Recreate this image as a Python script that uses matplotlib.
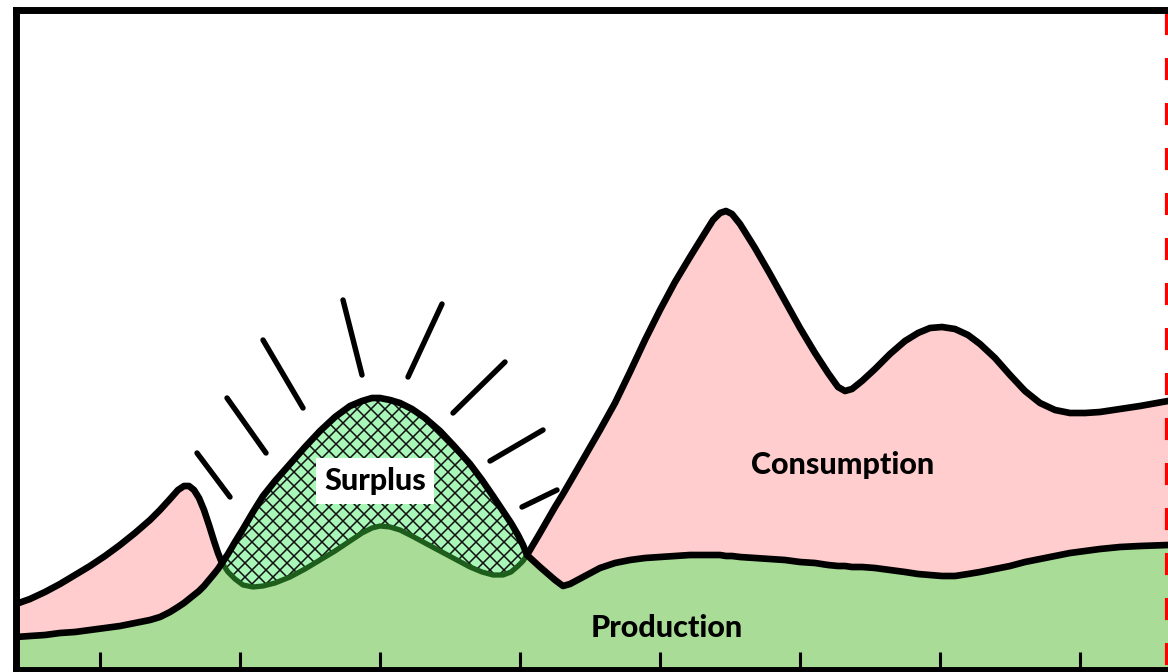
import numpy as np
import matplotlib
matplotlib.use('Agg')
import matplotlib.pyplot as plt
from matplotlib.collections import LineCollection

plt.rcParams['font.family'] = ['Lato', 'DejaVu Sans']

# time axis (arbitrary units)
x = np.array([0, 14, 29, 44, 59, 74, 89, 104, 119, 134,
              144, 154, 162, 168, 173, 178, 183, 188, 193, 198,
              202, 206, 212, 219, 227, 237, 247, 259, 274, 289,
              304, 319, 334, 346, 356, 364, 374, 384, 396, 409,
              424, 439, 454, 466, 477, 487, 495, 502, 507, 511,
              524, 539, 547, 554, 569, 584, 599, 614, 629, 644,
              659, 674, 687, 697, 704, 710, 716, 724, 739, 754,
              769, 784, 799, 812, 822, 829, 836, 846, 859, 874,
              889, 902, 914, 926, 939, 952, 964, 979, 994, 1009,
              1024, 1039, 1054, 1069, 1084, 1104, 1124, 1152])

consumption = np.array([66, 71, 78, 86, 95, 104, 114, 125, 137, 150,
                        160, 171, 180, 184, 184, 180, 172, 160, 145, 129,
                        117, 107, 98, 91, 85, 83, 84, 87, 93, 101,
                        110, 119, 129, 137, 142, 144, 143, 140, 134, 127,
                        119, 111, 103, 98, 95, 95, 98, 104, 109, 115,
                        137, 163, 176, 188, 214, 240, 267, 298, 330, 360,
                        388, 413, 434, 450, 457, 459, 456, 446, 422, 396,
                        369, 342, 317, 297, 283, 279, 281, 289, 301, 316,
                        329, 337, 342, 343, 341, 335, 326, 312, 295, 279,
                        267, 260, 257, 257, 258, 261, 264, 269])

production = np.array([33, 34, 35, 37, 38, 40, 42, 44, 47, 50,
                       53, 58, 63, 67, 71, 75, 79, 84, 90, 96,
                       101, 107, 116, 128, 141, 158, 174, 189, 206, 223,
                       239, 253, 264, 269, 272, 272, 270, 267, 261, 252,
                       239, 223, 206, 190, 174, 159, 147, 135, 125, 115,
                       103, 90, 84, 86, 94, 102, 107, 110, 112, 113,
                       114, 115, 115, 115, 115, 114, 114, 113, 112, 111,
                       110, 108, 107, 105, 104, 104, 103, 103, 102, 100,
                       98, 96, 95, 94, 94, 96, 98, 101, 104, 108,
                       111, 114, 117, 119, 121, 123, 124, 125])

tick_pos = [84, 224, 364, 504, 644, 784, 924, 1064]
limit_x = 1151

# "glow" strokes around the surplus peak: (x0, y0, x1, y1)
rays = [(181, 217, 214, 173), (211, 272, 250, 217), (247, 330, 287, 262),
        (327, 370, 346, 295), (426, 366, 392, 293), (489, 308, 437, 257),
        (527, 240, 474, 209), (541, 180, 506, 163)]

green = '#a9dc96'
pink = '#ffcdcd'
mint = '#a8f7b8'
dark_green = '#1d5e1d'

fig = plt.figure(figsize=(11.68, 6.72), dpi=100)
ax = fig.add_axes([16 / 1168, 2 / 672, 1154 / 1168, 660 / 672])
ax.set_xlim(0, 1154)
ax.set_ylim(0, 660)

base = np.minimum(consumption, production)
ax.fill_between(x, 0, base, facecolor=green, edgecolor='none', zorder=1)
ax.fill_between(x, production, consumption, where=consumption >= production,
                interpolate=True, facecolor=pink, edgecolor='none', zorder=1)
surplus = ax.fill_between(x, consumption, production, where=production >= consumption,
                          interpolate=True, facecolor=mint, edgecolor='none', zorder=1)

# cross hatch of the surplus area
d = 14
offs = np.arange(-1200, 1200, d)
segs = [[(0, c), (1200, c + 1200)] for c in offs] + \
       [[(0, c), (1200, c - 1200)] for c in offs + 1200]
hatch = LineCollection(segs, colors='#111111', linewidths=1.1, zorder=2)
ax.add_collection(hatch)
hatch.set_clip_path(surplus.get_paths()[0], ax.transData)

cons_green = np.ma.masked_where(production < consumption, consumption)
cons_black = np.ma.masked_where(production > consumption, consumption)
ax.plot(x, cons_green, color=dark_green, lw=3.8, solid_capstyle='round',
        solid_joinstyle='round', zorder=3)
ax.plot(x, cons_black, color='black', lw=4.8, solid_capstyle='round',
        solid_joinstyle='round', zorder=4)
ax.plot(x, production, color='black', lw=4.8, solid_capstyle='round',
        solid_joinstyle='round', zorder=4)

for x0, y0, x1, y1 in rays:
    ax.plot([x0, x1], [y0, y1], color='black', lw=3.9, solid_capstyle='round', zorder=4)

ax.plot([limit_x, limit_x], [657, 0], color='#ff0000', lw=3,
        linestyle=(0, (5.3, 5.5)), zorder=5)

ax.text(359, 189, 'Surplus', ha='center', va='center', fontsize=22,
        fontweight='black', zorder=6,
        bbox=dict(boxstyle='square,pad=0.28', facecolor='white', edgecolor='none'))
ax.text(827, 205, 'Consumption', ha='center', va='center', fontsize=22,
        fontweight='black', zorder=6)
ax.text(651, 42, 'Production', ha='center', va='center', fontsize=22,
        fontweight='black', zorder=6)

for side in ['left', 'top', 'bottom']:
    ax.spines[side].set_linewidth(5)
    ax.spines[side].set_zorder(7)
ax.spines['right'].set_visible(False)
ax.set_xticks(tick_pos)
ax.set_yticks([])
ax.tick_params(axis='x', direction='in', length=13, width=2.2, labelbottom=False)

fig.savefig('out.png', dpi=100)
